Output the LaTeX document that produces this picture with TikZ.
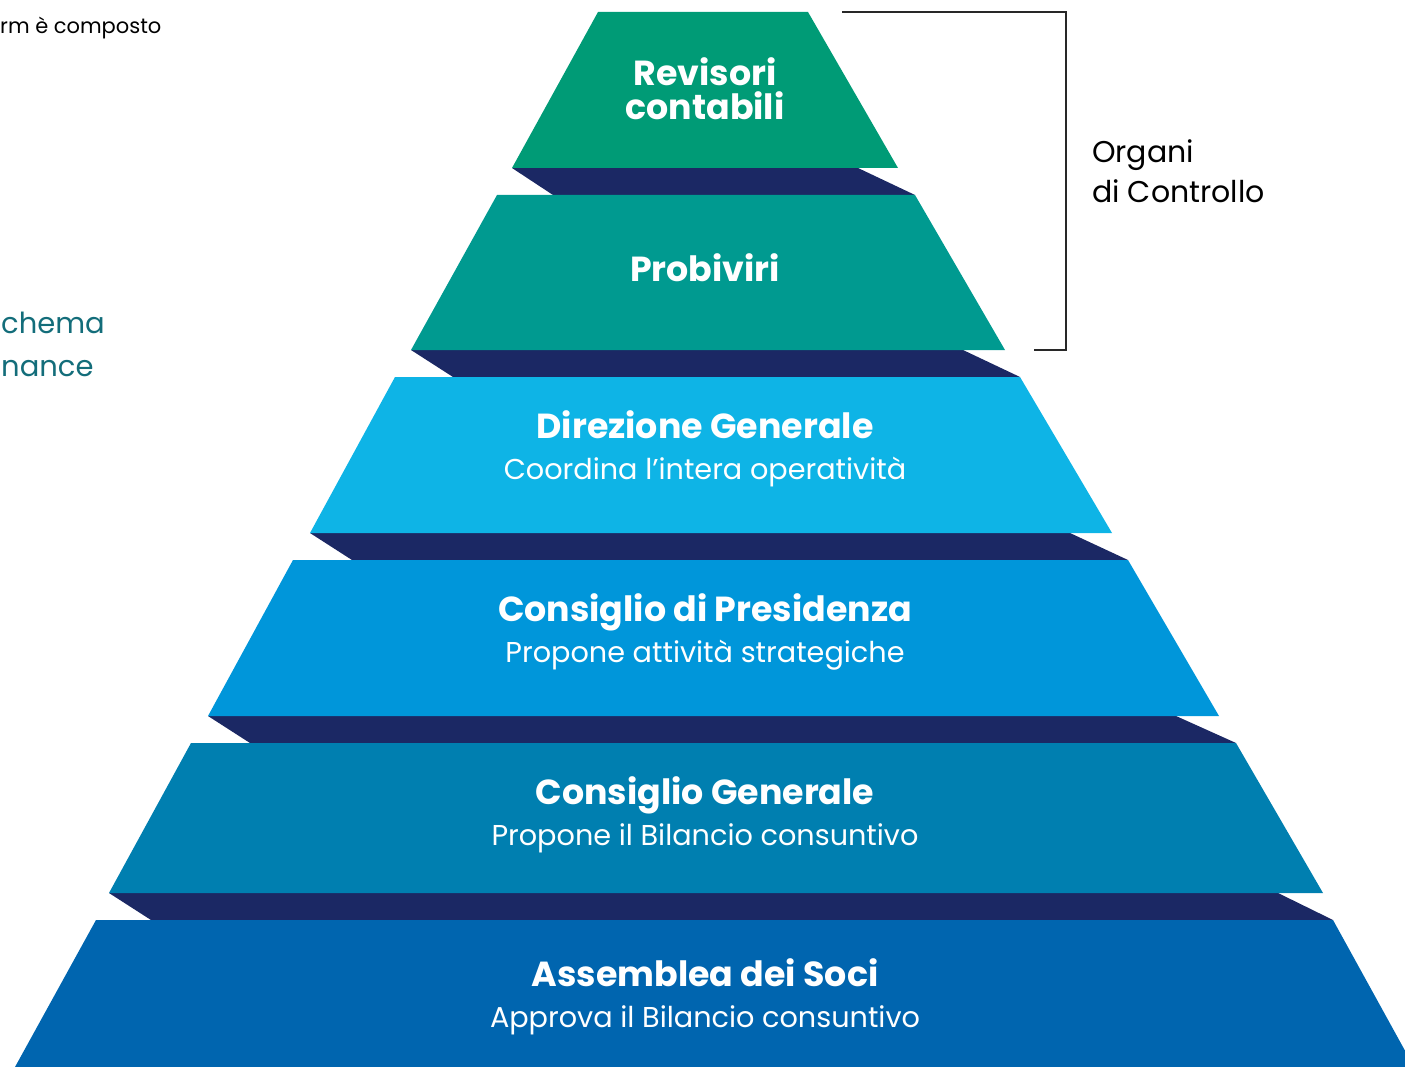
\documentclass[tikz,border=0pt]{standalone}
\usepackage{fontspec}
\setmainfont{Poppins}
\newfontfamily\hdfont{Poppins}[UprightFont=* Bold]
\newfontfamily\txfont{Poppins}
\definecolor{tOne}{RGB}{0,155,118}
\definecolor{tTwo}{RGB}{0,154,144}
\definecolor{tThree}{RGB}{14,180,230}
\definecolor{tFour}{RGB}{0,150,218}
\definecolor{tFive}{RGB}{0,127,176}
\definecolor{tSix}{RGB}{0,101,175}
\definecolor{band}{RGB}{27,40,100}
\definecolor{tealtxt}{RGB}{19,109,122}
\definecolor{brk}{RGB}{40,40,40}
\tikzset{
  hd/.style={anchor=base, text=white, font=\hdfont\fontsize{34.8}{34.8}\selectfont, inner sep=0pt},
  sub/.style={anchor=base, text=white, font=\txfont\fontsize{28.7}{28.7}\selectfont, inner sep=0pt},
  side/.style={anchor=base west, inner sep=0pt, font=\txfont\fontsize{30}{30}\selectfont},
  bandfill/.style={fill=band},
}
\begin{document}
\begin{tikzpicture}[x=1pt,y=-1pt]
\useasboundingbox (0,0) rectangle (1405,1067);
\clip (0,0) rectangle (1405,1067);
% dark bands
\fill[bandfill] (512,168) -- (858,168) -- (915,195) -- (553,195) -- cycle;
\fill[bandfill] (411,350) -- (963,350) -- (1020,377) -- (453,377) -- cycle;
\fill[bandfill] (310,533) -- (1070,533) -- (1128,560) -- (352,560) -- cycle;
\fill[bandfill] (208,716) -- (1176,716) -- (1236,743) -- (250,743) -- cycle;
\fill[bandfill] (109,893) -- (1278,893) -- (1333,920) -- (151,920) -- cycle;
% tiers
\fill[tOne]   (598,12) -- (808,12) -- (898,168) -- (512,168) -- cycle;
\fill[tTwo]   (497,195) -- (915,195) -- (1005,350) -- (411,350) -- cycle;
\fill[tThree] (395,377) -- (1020,377) -- (1112,533) -- (310,533) -- cycle;
\fill[tFour]  (293,560) -- (1128,560) -- (1219,716) -- (208,716) -- cycle;
\fill[tFive]  (191,743) -- (1236,743) -- (1323,893) -- (109,893) -- cycle;
\fill[tSix]   (96,920) -- (1333,920) -- (1414,1067) -- (15,1067) -- cycle;
% texts
\node[hd] (rev1) at (705,86) {Revisori};
\node[hd] (rev2) at (705,120) {contabili};
\node[hd] (prob) at (705,282) {Probiviri};
\node[hd] (dir) at (705,438) {Direzione Generale};
\node[sub] (dirs) at (705,479) {Coordina l’intera operatività};
\node[hd] (pres) at (705,621) {Consiglio di Presidenza};
\node[sub] (press) at (705,662) {Propone attività strategiche};
\node[hd] (gen) at (705,804) {Consiglio Generale};
\node[sub] (gens) at (705,845) {Propone il Bilancio consuntivo};
\node[hd] (ass) at (705,986) {Assemblea dei Soci};
\node[sub] (asss) at (705,1027) {Approva il Bilancio consuntivo};
% bracket
\coordinate (b1) at (842,12);
\coordinate (b2) at (1066,12);
\coordinate (b3) at (1066,350);
\coordinate (b4) at (1034,350);
\draw[brk, line width=1.3pt] (b1) -- (b2) -- (b3) -- (b4);
\node[side] (org1) at (1092,163) {Organi};
\node[side] (org2) at (1092,203) {di Controllo};
% left partial texts
\node[anchor=base west, inner sep=0pt, font=\txfont\fontsize{21}{21}\selectfont] (topl) at (0,34) {rm è composto};
\node[anchor=base west, inner sep=0pt, text=tealtxt, font=\txfont\fontsize{29}{29}\selectfont] (sch) at (1,333) {chema};
\node[anchor=base west, inner sep=0pt, text=tealtxt, font=\txfont\fontsize{29}{29}\selectfont] (nan) at (1,376) {nance};
\end{tikzpicture}
\end{document}
